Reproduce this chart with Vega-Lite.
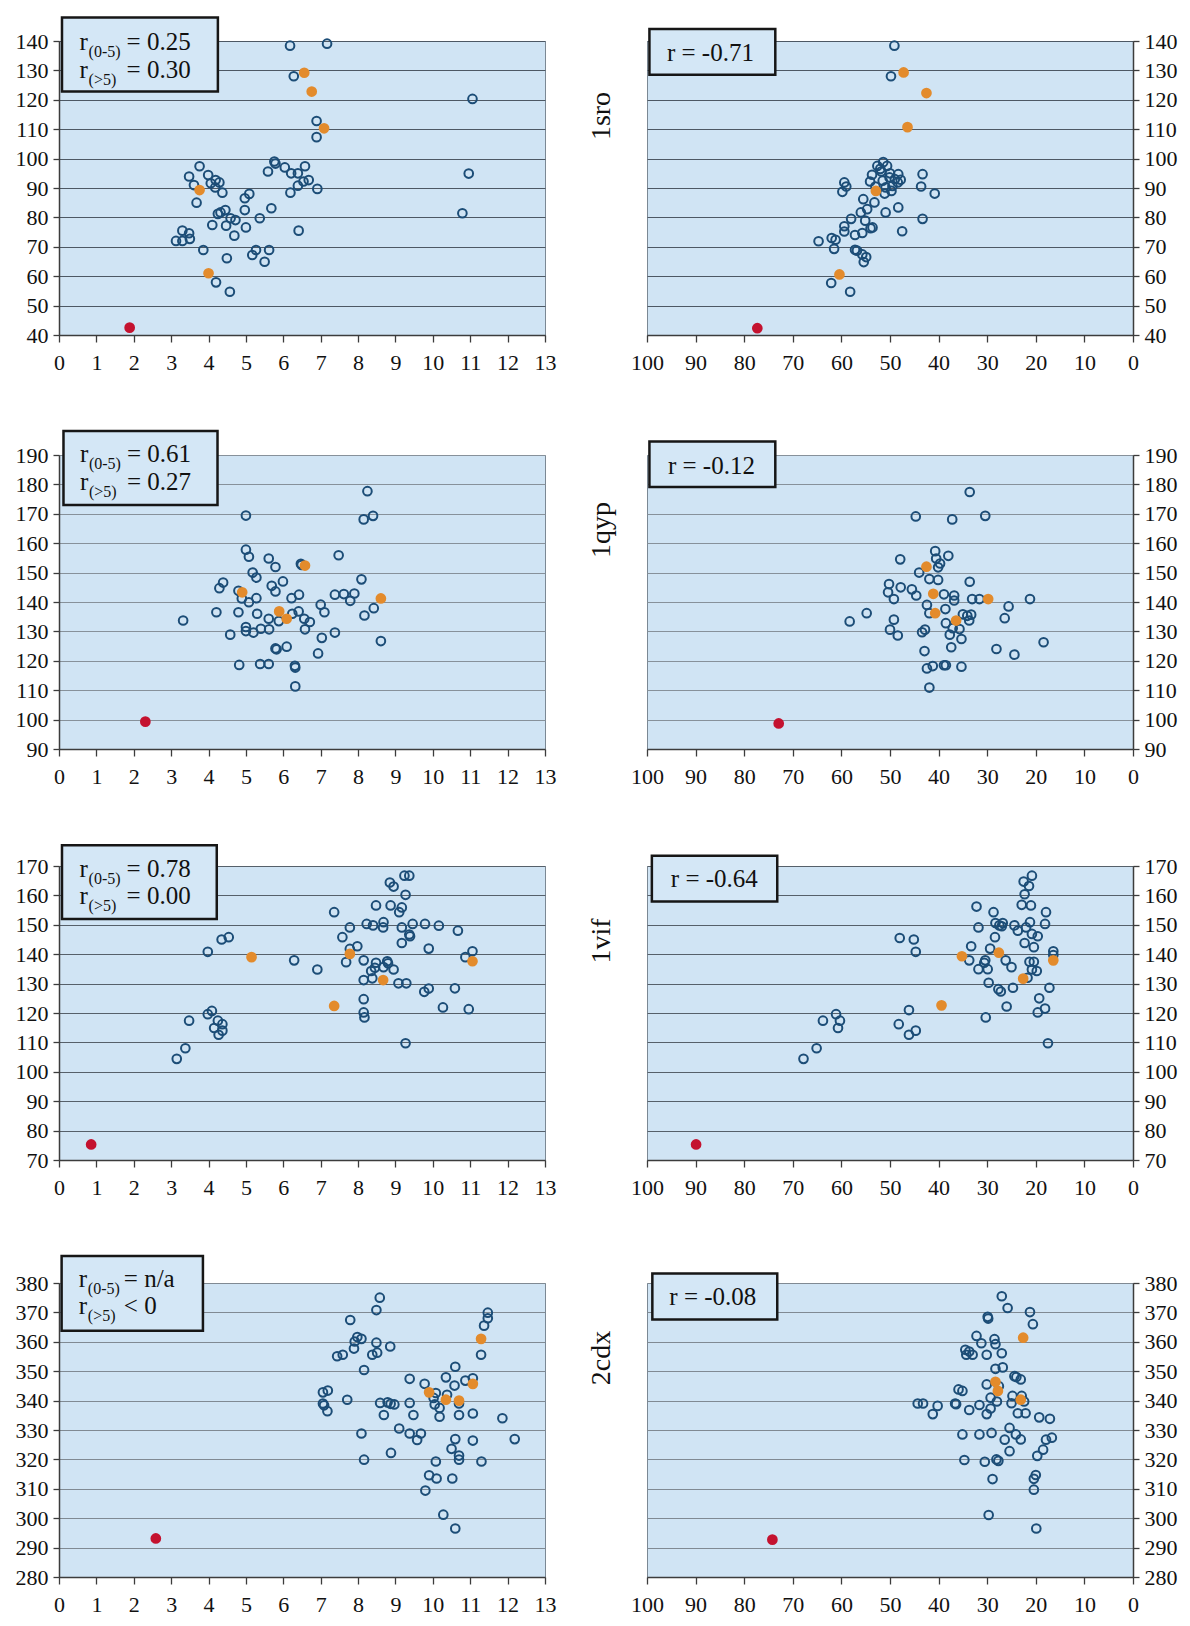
{
"$schema":"https://vega.github.io/schema/vega-lite/v6.json",
"padding":{"left":14,"top":15,"right":5,"bottom":3},
"background":"white",
"spacing":55,
"resolve":{"scale":{"x":"independent","y":"independent"}},
"datasets":{
"p1":[{"x":6.18,"y":138.4,"t":"o"},{"x":7.17,"y":139.1,"t":"o"},{"x":6.28,"y":128.0,"t":"o"},{"x":11.06,"y":120.3,"t":"o"},{"x":6.89,"y":112.8,"t":"o"},{"x":6.89,"y":107.3,"t":"o"},{"x":5.76,"y":99.0,"t":"o"},{"x":5.79,"y":98.3,"t":"o"},{"x":3.76,"y":97.4,"t":"o"},{"x":6.58,"y":97.4,"t":"o"},{"x":6.04,"y":97.0,"t":"o"},{"x":5.59,"y":95.6,"t":"o"},{"x":6.21,"y":95.0,"t":"o"},{"x":6.39,"y":95.0,"t":"o"},{"x":10.96,"y":94.9,"t":"o"},{"x":3.48,"y":93.9,"t":"o"},{"x":3.99,"y":94.4,"t":"o"},{"x":4.19,"y":92.7,"t":"o"},{"x":4.29,"y":91.9,"t":"o"},{"x":4.06,"y":91.6,"t":"o"},{"x":4.18,"y":90.2,"t":"o"},{"x":3.61,"y":91.0,"t":"o"},{"x":6.54,"y":92.2,"t":"o"},{"x":6.68,"y":92.7,"t":"o"},{"x":6.39,"y":90.8,"t":"o"},{"x":6.91,"y":89.7,"t":"o"},{"x":4.37,"y":88.4,"t":"o"},{"x":6.19,"y":88.4,"t":"o"},{"x":5.09,"y":88.0,"t":"o"},{"x":4.97,"y":86.5,"t":"o"},{"x":3.68,"y":85.0,"t":"o"},{"x":5.68,"y":83.1,"t":"o"},{"x":4.97,"y":82.5,"t":"o"},{"x":4.45,"y":82.5,"t":"o"},{"x":4.32,"y":81.7,"t":"o"},{"x":4.25,"y":81.2,"t":"o"},{"x":10.79,"y":81.4,"t":"o"},{"x":4.59,"y":79.7,"t":"o"},{"x":5.37,"y":79.7,"t":"o"},{"x":4.72,"y":79.1,"t":"o"},{"x":4.10,"y":77.4,"t":"o"},{"x":4.47,"y":77.2,"t":"o"},{"x":5.00,"y":76.6,"t":"o"},{"x":6.41,"y":75.5,"t":"o"},{"x":3.30,"y":75.5,"t":"o"},{"x":3.48,"y":74.6,"t":"o"},{"x":4.69,"y":73.8,"t":"o"},{"x":3.13,"y":72.0,"t":"o"},{"x":3.30,"y":72.0,"t":"o"},{"x":3.50,"y":72.7,"t":"o"},{"x":3.86,"y":68.9,"t":"o"},{"x":5.27,"y":68.9,"t":"o"},{"x":5.62,"y":68.9,"t":"o"},{"x":5.17,"y":67.2,"t":"o"},{"x":5.50,"y":64.9,"t":"o"},{"x":4.49,"y":66.1,"t":"o"},{"x":4.20,"y":57.9,"t":"o"},{"x":4.57,"y":54.7,"t":"o"},{"x":6.56,"y":129.2,"t":"a"},{"x":6.76,"y":122.8,"t":"a"},{"x":7.09,"y":110.3,"t":"a"},{"x":3.76,"y":89.3,"t":"a"},{"x":4.00,"y":61.0,"t":"a"},{"x":1.89,"y":42.5,"t":"r"}],
"p2":[{"x":49.1,"y":138.4,"t":"o"},{"x":49.8,"y":128.0,"t":"o"},{"x":51.4,"y":98.8,"t":"o"},{"x":52.6,"y":97.5,"t":"o"},{"x":50.6,"y":97.5,"t":"o"},{"x":53.7,"y":94.5,"t":"o"},{"x":51.8,"y":95.6,"t":"o"},{"x":48.3,"y":94.7,"t":"o"},{"x":43.3,"y":94.7,"t":"o"},{"x":50.1,"y":93.6,"t":"o"},{"x":54.1,"y":92.2,"t":"o"},{"x":48.4,"y":91.9,"t":"o"},{"x":59.4,"y":91.9,"t":"o"},{"x":59.0,"y":90.5,"t":"o"},{"x":49.5,"y":90.7,"t":"o"},{"x":50.9,"y":90.2,"t":"o"},{"x":43.6,"y":90.5,"t":"o"},{"x":59.8,"y":88.7,"t":"o"},{"x":49.7,"y":89.0,"t":"o"},{"x":51.1,"y":88.1,"t":"o"},{"x":40.8,"y":88.1,"t":"o"},{"x":55.5,"y":86.2,"t":"o"},{"x":53.2,"y":85.1,"t":"o"},{"x":54.7,"y":82.8,"t":"o"},{"x":56.0,"y":81.7,"t":"o"},{"x":48.3,"y":83.4,"t":"o"},{"x":50.9,"y":81.7,"t":"o"},{"x":58.0,"y":79.5,"t":"o"},{"x":43.3,"y":79.5,"t":"o"},{"x":55.1,"y":78.9,"t":"o"},{"x":59.4,"y":77.0,"t":"o"},{"x":53.6,"y":76.6,"t":"o"},{"x":54.0,"y":76.3,"t":"o"},{"x":59.4,"y":75.2,"t":"o"},{"x":57.2,"y":74.0,"t":"o"},{"x":55.7,"y":74.7,"t":"o"},{"x":47.5,"y":75.3,"t":"o"},{"x":64.7,"y":71.9,"t":"o"},{"x":62.0,"y":73.0,"t":"o"},{"x":61.2,"y":72.4,"t":"o"},{"x":61.5,"y":69.3,"t":"o"},{"x":57.2,"y":69.0,"t":"o"},{"x":56.8,"y":68.7,"t":"o"},{"x":55.7,"y":67.4,"t":"o"},{"x":54.9,"y":66.5,"t":"o"},{"x":55.4,"y":64.8,"t":"o"},{"x":62.1,"y":57.7,"t":"o"},{"x":58.2,"y":54.7,"t":"o"},{"x":52.0,"y":96.5,"t":"o"},{"x":50.0,"y":95.0,"t":"o"},{"x":49.0,"y":93.0,"t":"o"},{"x":51.5,"y":92.5,"t":"o"},{"x":47.8,"y":92.8,"t":"o"},{"x":53.0,"y":90.5,"t":"o"},{"x":47.2,"y":129.3,"t":"a"},{"x":42.5,"y":122.3,"t":"a"},{"x":46.4,"y":110.7,"t":"a"},{"x":52.9,"y":89.0,"t":"a"},{"x":60.4,"y":60.6,"t":"a"},{"x":77.3,"y":42.3,"t":"r"}],
"p3":[{"x":8.25,"y":177.7,"t":"o"},{"x":5.00,"y":169.4,"t":"o"},{"x":8.15,"y":168.1,"t":"o"},{"x":8.40,"y":169.3,"t":"o"},{"x":5.00,"y":157.8,"t":"o"},{"x":5.08,"y":155.4,"t":"o"},{"x":7.48,"y":155.9,"t":"o"},{"x":5.61,"y":154.8,"t":"o"},{"x":5.79,"y":151.9,"t":"o"},{"x":6.47,"y":153.0,"t":"o"},{"x":6.49,"y":152.6,"t":"o"},{"x":5.18,"y":150.0,"t":"o"},{"x":5.28,"y":148.3,"t":"o"},{"x":5.99,"y":147.0,"t":"o"},{"x":8.09,"y":147.7,"t":"o"},{"x":4.39,"y":146.6,"t":"o"},{"x":4.29,"y":144.7,"t":"o"},{"x":5.69,"y":145.5,"t":"o"},{"x":5.79,"y":143.6,"t":"o"},{"x":4.80,"y":143.8,"t":"o"},{"x":5.28,"y":141.3,"t":"o"},{"x":4.89,"y":141.2,"t":"o"},{"x":6.22,"y":141.3,"t":"o"},{"x":6.42,"y":142.5,"t":"o"},{"x":7.38,"y":142.5,"t":"o"},{"x":7.62,"y":142.7,"t":"o"},{"x":7.90,"y":142.9,"t":"o"},{"x":7.79,"y":140.4,"t":"o"},{"x":5.08,"y":139.9,"t":"o"},{"x":7.00,"y":139.1,"t":"o"},{"x":7.10,"y":136.5,"t":"o"},{"x":4.21,"y":136.5,"t":"o"},{"x":4.80,"y":136.5,"t":"o"},{"x":5.30,"y":136.0,"t":"o"},{"x":6.41,"y":136.8,"t":"o"},{"x":6.24,"y":136.0,"t":"o"},{"x":8.42,"y":137.9,"t":"o"},{"x":8.17,"y":135.4,"t":"o"},{"x":3.32,"y":133.7,"t":"o"},{"x":5.61,"y":134.3,"t":"o"},{"x":5.88,"y":133.5,"t":"o"},{"x":6.56,"y":134.3,"t":"o"},{"x":6.71,"y":133.2,"t":"o"},{"x":5.00,"y":131.5,"t":"o"},{"x":5.00,"y":130.1,"t":"o"},{"x":5.20,"y":129.6,"t":"o"},{"x":5.40,"y":130.9,"t":"o"},{"x":5.62,"y":130.7,"t":"o"},{"x":6.58,"y":130.7,"t":"o"},{"x":4.58,"y":128.9,"t":"o"},{"x":7.38,"y":129.6,"t":"o"},{"x":7.03,"y":127.8,"t":"o"},{"x":8.61,"y":126.7,"t":"o"},{"x":6.09,"y":124.8,"t":"o"},{"x":5.79,"y":124.2,"t":"o"},{"x":5.82,"y":123.9,"t":"o"},{"x":6.93,"y":122.5,"t":"o"},{"x":4.82,"y":118.6,"t":"o"},{"x":5.38,"y":118.9,"t":"o"},{"x":5.61,"y":118.9,"t":"o"},{"x":6.31,"y":118.3,"t":"o"},{"x":6.32,"y":117.7,"t":"o"},{"x":6.32,"y":111.3,"t":"o"},{"x":4.90,"y":143.3,"t":"a"},{"x":5.89,"y":136.8,"t":"a"},{"x":6.09,"y":134.3,"t":"a"},{"x":6.58,"y":152.4,"t":"a"},{"x":8.61,"y":141.2,"t":"a"},{"x":2.31,"y":99.3,"t":"r"}],
"p4":[{"x":33.6,"y":177.4,"t":"o"},{"x":44.7,"y":169.1,"t":"o"},{"x":37.2,"y":168.1,"t":"o"},{"x":30.4,"y":169.3,"t":"o"},{"x":40.7,"y":157.3,"t":"o"},{"x":38.0,"y":155.7,"t":"o"},{"x":47.9,"y":154.5,"t":"o"},{"x":40.5,"y":154.8,"t":"o"},{"x":39.7,"y":153.1,"t":"o"},{"x":40.1,"y":151.8,"t":"o"},{"x":44.0,"y":150.0,"t":"o"},{"x":41.9,"y":147.8,"t":"o"},{"x":40.1,"y":147.5,"t":"o"},{"x":33.6,"y":146.9,"t":"o"},{"x":50.2,"y":146.1,"t":"o"},{"x":50.4,"y":143.3,"t":"o"},{"x":47.8,"y":145.0,"t":"o"},{"x":45.5,"y":144.3,"t":"o"},{"x":44.6,"y":142.2,"t":"o"},{"x":38.9,"y":142.6,"t":"o"},{"x":36.8,"y":142.2,"t":"o"},{"x":36.8,"y":140.5,"t":"o"},{"x":49.2,"y":141.0,"t":"o"},{"x":33.1,"y":141.0,"t":"o"},{"x":31.6,"y":141.0,"t":"o"},{"x":21.2,"y":141.0,"t":"o"},{"x":42.4,"y":139.0,"t":"o"},{"x":25.6,"y":138.5,"t":"o"},{"x":54.8,"y":136.2,"t":"o"},{"x":58.3,"y":133.4,"t":"o"},{"x":49.2,"y":134.0,"t":"o"},{"x":41.9,"y":136.2,"t":"o"},{"x":38.6,"y":137.6,"t":"o"},{"x":35.0,"y":135.8,"t":"o"},{"x":34.1,"y":135.3,"t":"o"},{"x":33.3,"y":135.7,"t":"o"},{"x":33.7,"y":133.7,"t":"o"},{"x":26.4,"y":134.5,"t":"o"},{"x":38.5,"y":132.8,"t":"o"},{"x":37.1,"y":131.1,"t":"o"},{"x":35.7,"y":130.8,"t":"o"},{"x":50.0,"y":130.6,"t":"o"},{"x":43.4,"y":129.7,"t":"o"},{"x":42.8,"y":130.6,"t":"o"},{"x":37.7,"y":128.9,"t":"o"},{"x":48.4,"y":128.6,"t":"o"},{"x":35.3,"y":127.4,"t":"o"},{"x":18.4,"y":126.3,"t":"o"},{"x":37.4,"y":124.6,"t":"o"},{"x":42.9,"y":123.3,"t":"o"},{"x":28.1,"y":124.0,"t":"o"},{"x":24.4,"y":122.1,"t":"o"},{"x":41.2,"y":118.2,"t":"o"},{"x":42.4,"y":117.4,"t":"o"},{"x":38.9,"y":118.5,"t":"o"},{"x":38.5,"y":118.5,"t":"o"},{"x":35.3,"y":118.0,"t":"o"},{"x":41.9,"y":110.9,"t":"o"},{"x":42.5,"y":152.0,"t":"a"},{"x":41.1,"y":142.8,"t":"a"},{"x":40.7,"y":136.2,"t":"a"},{"x":36.4,"y":133.7,"t":"a"},{"x":29.8,"y":141.0,"t":"a"},{"x":72.9,"y":98.7,"t":"r"}],
"p5":[{"x":9.24,"y":166.7,"t":"o"},{"x":9.37,"y":166.7,"t":"o"},{"x":8.85,"y":164.4,"t":"o"},{"x":8.95,"y":163.0,"t":"o"},{"x":9.27,"y":160.2,"t":"o"},{"x":8.48,"y":156.6,"t":"o"},{"x":8.87,"y":156.6,"t":"o"},{"x":9.17,"y":155.9,"t":"o"},{"x":7.36,"y":154.3,"t":"o"},{"x":9.10,"y":154.3,"t":"o"},{"x":8.23,"y":150.3,"t":"o"},{"x":8.40,"y":149.8,"t":"o"},{"x":8.68,"y":150.9,"t":"o"},{"x":8.67,"y":149.1,"t":"o"},{"x":9.17,"y":149.1,"t":"o"},{"x":9.46,"y":150.3,"t":"o"},{"x":9.79,"y":150.3,"t":"o"},{"x":10.16,"y":149.7,"t":"o"},{"x":7.78,"y":149.1,"t":"o"},{"x":10.67,"y":148.0,"t":"o"},{"x":9.37,"y":146.7,"t":"o"},{"x":9.39,"y":146.1,"t":"o"},{"x":7.58,"y":145.8,"t":"o"},{"x":9.17,"y":143.8,"t":"o"},{"x":7.98,"y":142.7,"t":"o"},{"x":9.89,"y":141.9,"t":"o"},{"x":7.78,"y":141.8,"t":"o"},{"x":4.54,"y":145.8,"t":"o"},{"x":4.35,"y":145.0,"t":"o"},{"x":3.98,"y":140.8,"t":"o"},{"x":11.06,"y":141.0,"t":"o"},{"x":10.87,"y":139.0,"t":"o"},{"x":6.29,"y":137.9,"t":"o"},{"x":8.15,"y":137.9,"t":"o"},{"x":7.68,"y":137.3,"t":"o"},{"x":8.48,"y":137.1,"t":"o"},{"x":8.78,"y":137.6,"t":"o"},{"x":8.80,"y":136.9,"t":"o"},{"x":8.68,"y":135.6,"t":"o"},{"x":8.45,"y":135.4,"t":"o"},{"x":8.35,"y":134.3,"t":"o"},{"x":8.95,"y":134.8,"t":"o"},{"x":6.91,"y":134.8,"t":"o"},{"x":8.38,"y":131.8,"t":"o"},{"x":8.15,"y":131.2,"t":"o"},{"x":9.08,"y":130.1,"t":"o"},{"x":9.29,"y":130.1,"t":"o"},{"x":9.77,"y":127.2,"t":"o"},{"x":9.89,"y":128.3,"t":"o"},{"x":10.59,"y":128.4,"t":"o"},{"x":8.15,"y":124.7,"t":"o"},{"x":10.27,"y":121.9,"t":"o"},{"x":10.96,"y":121.3,"t":"o"},{"x":8.15,"y":120.2,"t":"o"},{"x":8.17,"y":118.5,"t":"o"},{"x":4.09,"y":120.7,"t":"o"},{"x":3.98,"y":119.6,"t":"o"},{"x":3.48,"y":117.4,"t":"o"},{"x":4.25,"y":117.4,"t":"o"},{"x":4.37,"y":116.2,"t":"o"},{"x":4.15,"y":114.9,"t":"o"},{"x":4.37,"y":114.0,"t":"o"},{"x":4.27,"y":112.6,"t":"o"},{"x":9.27,"y":109.7,"t":"o"},{"x":3.38,"y":108.0,"t":"o"},{"x":3.15,"y":104.4,"t":"o"},{"x":5.15,"y":139.0,"t":"a"},{"x":7.78,"y":140.1,"t":"a"},{"x":7.36,"y":122.4,"t":"a"},{"x":8.67,"y":131.2,"t":"a"},{"x":11.06,"y":137.6,"t":"a"},{"x":0.86,"y":75.3,"t":"r"}],
"p6":[{"x":20.8,"y":166.7,"t":"o"},{"x":22.5,"y":164.7,"t":"o"},{"x":21.4,"y":163.2,"t":"o"},{"x":22.3,"y":160.4,"t":"o"},{"x":22.9,"y":156.8,"t":"o"},{"x":21.0,"y":156.6,"t":"o"},{"x":32.2,"y":156.2,"t":"o"},{"x":28.7,"y":154.3,"t":"o"},{"x":17.9,"y":154.3,"t":"o"},{"x":28.3,"y":150.6,"t":"o"},{"x":26.8,"y":150.6,"t":"o"},{"x":27.0,"y":149.5,"t":"o"},{"x":27.5,"y":149.8,"t":"o"},{"x":24.4,"y":149.8,"t":"o"},{"x":21.2,"y":150.9,"t":"o"},{"x":18.1,"y":150.3,"t":"o"},{"x":31.8,"y":149.1,"t":"o"},{"x":22.0,"y":149.1,"t":"o"},{"x":23.7,"y":148.0,"t":"o"},{"x":20.8,"y":146.9,"t":"o"},{"x":19.6,"y":146.1,"t":"o"},{"x":28.4,"y":145.8,"t":"o"},{"x":48.0,"y":145.5,"t":"o"},{"x":45.1,"y":145.0,"t":"o"},{"x":44.7,"y":140.8,"t":"o"},{"x":33.3,"y":142.7,"t":"o"},{"x":29.4,"y":141.9,"t":"o"},{"x":22.3,"y":143.8,"t":"o"},{"x":20.4,"y":142.4,"t":"o"},{"x":16.4,"y":141.0,"t":"o"},{"x":16.4,"y":139.7,"t":"o"},{"x":33.7,"y":137.9,"t":"o"},{"x":30.4,"y":137.9,"t":"o"},{"x":30.6,"y":137.1,"t":"o"},{"x":26.2,"y":137.9,"t":"o"},{"x":21.3,"y":137.4,"t":"o"},{"x":20.4,"y":137.4,"t":"o"},{"x":31.8,"y":134.9,"t":"o"},{"x":29.9,"y":134.9,"t":"o"},{"x":25.0,"y":135.6,"t":"o"},{"x":20.8,"y":134.8,"t":"o"},{"x":19.8,"y":134.3,"t":"o"},{"x":29.7,"y":130.3,"t":"o"},{"x":27.7,"y":128.1,"t":"o"},{"x":27.2,"y":127.3,"t":"o"},{"x":24.7,"y":128.6,"t":"o"},{"x":21.7,"y":132.0,"t":"o"},{"x":17.2,"y":128.6,"t":"o"},{"x":19.3,"y":125.0,"t":"o"},{"x":26.0,"y":122.2,"t":"o"},{"x":18.1,"y":121.5,"t":"o"},{"x":19.6,"y":120.2,"t":"o"},{"x":30.3,"y":118.5,"t":"o"},{"x":46.1,"y":121.0,"t":"o"},{"x":61.1,"y":119.6,"t":"o"},{"x":63.8,"y":117.4,"t":"o"},{"x":60.3,"y":117.4,"t":"o"},{"x":60.7,"y":114.9,"t":"o"},{"x":48.2,"y":116.2,"t":"o"},{"x":46.1,"y":112.6,"t":"o"},{"x":44.7,"y":114.0,"t":"o"},{"x":17.5,"y":109.7,"t":"o"},{"x":65.1,"y":108.0,"t":"o"},{"x":67.8,"y":104.4,"t":"o"},{"x":35.2,"y":139.3,"t":"a"},{"x":27.6,"y":140.5,"t":"a"},{"x":39.4,"y":122.6,"t":"a"},{"x":22.6,"y":131.7,"t":"a"},{"x":16.4,"y":137.9,"t":"a"},{"x":89.9,"y":75.3,"t":"r"}],
"p7":[{"x":8.58,"y":375.0,"t":"o"},{"x":8.49,"y":370.8,"t":"o"},{"x":11.47,"y":369.9,"t":"o"},{"x":11.47,"y":368.0,"t":"o"},{"x":11.37,"y":365.5,"t":"o"},{"x":7.79,"y":367.4,"t":"o"},{"x":7.98,"y":361.6,"t":"o"},{"x":8.09,"y":361.0,"t":"o"},{"x":7.91,"y":360.1,"t":"o"},{"x":7.89,"y":357.7,"t":"o"},{"x":8.49,"y":359.7,"t":"o"},{"x":8.86,"y":358.4,"t":"o"},{"x":8.51,"y":356.3,"t":"o"},{"x":8.38,"y":355.6,"t":"o"},{"x":7.59,"y":355.6,"t":"o"},{"x":7.44,"y":355.1,"t":"o"},{"x":11.29,"y":355.6,"t":"o"},{"x":8.16,"y":350.4,"t":"o"},{"x":10.60,"y":351.5,"t":"o"},{"x":9.38,"y":347.4,"t":"o"},{"x":10.35,"y":347.9,"t":"o"},{"x":10.87,"y":346.8,"t":"o"},{"x":11.07,"y":347.6,"t":"o"},{"x":9.78,"y":345.7,"t":"o"},{"x":10.58,"y":345.1,"t":"o"},{"x":7.06,"y":342.8,"t":"o"},{"x":7.19,"y":343.4,"t":"o"},{"x":10.08,"y":342.6,"t":"o"},{"x":10.38,"y":342.0,"t":"o"},{"x":10.02,"y":340.9,"t":"o"},{"x":7.71,"y":340.3,"t":"o"},{"x":7.06,"y":339.0,"t":"o"},{"x":7.09,"y":338.4,"t":"o"},{"x":8.59,"y":339.2,"t":"o"},{"x":8.79,"y":339.4,"t":"o"},{"x":8.87,"y":338.9,"t":"o"},{"x":8.97,"y":338.7,"t":"o"},{"x":9.38,"y":339.2,"t":"o"},{"x":10.05,"y":338.7,"t":"o"},{"x":10.18,"y":337.5,"t":"o"},{"x":10.70,"y":339.0,"t":"o"},{"x":7.18,"y":336.4,"t":"o"},{"x":8.69,"y":335.1,"t":"o"},{"x":9.48,"y":335.1,"t":"o"},{"x":10.18,"y":334.5,"t":"o"},{"x":10.70,"y":335.1,"t":"o"},{"x":11.07,"y":335.6,"t":"o"},{"x":11.86,"y":334.0,"t":"o"},{"x":9.10,"y":330.5,"t":"o"},{"x":9.38,"y":328.8,"t":"o"},{"x":9.68,"y":328.8,"t":"o"},{"x":9.58,"y":326.6,"t":"o"},{"x":8.09,"y":328.8,"t":"o"},{"x":10.60,"y":326.9,"t":"o"},{"x":11.07,"y":326.4,"t":"o"},{"x":12.19,"y":326.9,"t":"o"},{"x":10.50,"y":323.6,"t":"o"},{"x":10.70,"y":321.3,"t":"o"},{"x":10.70,"y":319.9,"t":"o"},{"x":8.88,"y":322.2,"t":"o"},{"x":8.16,"y":319.9,"t":"o"},{"x":10.08,"y":319.3,"t":"o"},{"x":11.30,"y":319.3,"t":"o"},{"x":9.90,"y":314.6,"t":"o"},{"x":10.10,"y":313.5,"t":"o"},{"x":10.52,"y":313.5,"t":"o"},{"x":9.80,"y":309.4,"t":"o"},{"x":10.28,"y":301.2,"t":"o"},{"x":10.60,"y":296.5,"t":"o"},{"x":11.29,"y":361.0,"t":"a"},{"x":11.07,"y":345.7,"t":"a"},{"x":9.90,"y":342.8,"t":"a"},{"x":10.35,"y":340.3,"t":"a"},{"x":10.70,"y":340.0,"t":"a"},{"x":2.59,"y":293.1,"t":"r"}],
"p8":[{"x":27.0,"y":375.5,"t":"o"},{"x":25.8,"y":371.5,"t":"o"},{"x":21.2,"y":370.1,"t":"o"},{"x":20.6,"y":366.0,"t":"o"},{"x":29.9,"y":368.5,"t":"o"},{"x":29.8,"y":367.9,"t":"o"},{"x":32.2,"y":362.0,"t":"o"},{"x":31.2,"y":359.5,"t":"o"},{"x":28.5,"y":360.9,"t":"o"},{"x":28.3,"y":359.2,"t":"o"},{"x":27.0,"y":356.1,"t":"o"},{"x":34.5,"y":357.3,"t":"o"},{"x":33.7,"y":356.7,"t":"o"},{"x":34.3,"y":355.6,"t":"o"},{"x":33.0,"y":355.6,"t":"o"},{"x":30.1,"y":355.6,"t":"o"},{"x":28.3,"y":350.8,"t":"o"},{"x":26.8,"y":351.3,"t":"o"},{"x":24.4,"y":348.3,"t":"o"},{"x":24.0,"y":348.0,"t":"o"},{"x":23.1,"y":347.2,"t":"o"},{"x":30.1,"y":345.5,"t":"o"},{"x":27.6,"y":344.9,"t":"o"},{"x":35.9,"y":343.8,"t":"o"},{"x":35.1,"y":343.3,"t":"o"},{"x":29.3,"y":341.0,"t":"o"},{"x":24.8,"y":341.6,"t":"o"},{"x":22.9,"y":341.6,"t":"o"},{"x":28.0,"y":339.7,"t":"o"},{"x":25.0,"y":339.1,"t":"o"},{"x":22.4,"y":339.7,"t":"o"},{"x":44.3,"y":339.0,"t":"o"},{"x":43.2,"y":339.0,"t":"o"},{"x":40.2,"y":338.2,"t":"o"},{"x":36.6,"y":339.0,"t":"o"},{"x":36.4,"y":338.8,"t":"o"},{"x":31.6,"y":338.5,"t":"o"},{"x":29.3,"y":337.3,"t":"o"},{"x":33.7,"y":336.8,"t":"o"},{"x":30.1,"y":335.4,"t":"o"},{"x":41.2,"y":335.4,"t":"o"},{"x":23.7,"y":335.7,"t":"o"},{"x":22.1,"y":335.7,"t":"o"},{"x":19.3,"y":334.3,"t":"o"},{"x":17.1,"y":333.8,"t":"o"},{"x":25.4,"y":330.7,"t":"o"},{"x":35.1,"y":328.5,"t":"o"},{"x":31.6,"y":328.5,"t":"o"},{"x":29.1,"y":329.0,"t":"o"},{"x":24.1,"y":328.5,"t":"o"},{"x":26.4,"y":326.7,"t":"o"},{"x":23.1,"y":326.8,"t":"o"},{"x":17.9,"y":326.7,"t":"o"},{"x":16.7,"y":327.4,"t":"o"},{"x":18.5,"y":323.3,"t":"o"},{"x":25.4,"y":322.8,"t":"o"},{"x":34.7,"y":319.8,"t":"o"},{"x":30.5,"y":319.2,"t":"o"},{"x":28.1,"y":320.0,"t":"o"},{"x":27.7,"y":319.5,"t":"o"},{"x":19.7,"y":321.2,"t":"o"},{"x":20.0,"y":314.7,"t":"o"},{"x":20.4,"y":313.4,"t":"o"},{"x":20.4,"y":309.7,"t":"o"},{"x":28.9,"y":313.3,"t":"o"},{"x":29.7,"y":301.1,"t":"o"},{"x":19.9,"y":296.5,"t":"o"},{"x":22.6,"y":361.4,"t":"a"},{"x":28.3,"y":346.4,"t":"a"},{"x":27.8,"y":343.3,"t":"a"},{"x":23.1,"y":340.3,"t":"a"},{"x":74.2,"y":292.7,"t":"r"}]
},
"vconcat":[
{"hconcat":[
{"width":486,"height":294,"data":{"name":"p1"},"layer":[
{"transform":[{"filter":"datum.t == 'o'"}],"mark":{"type":"point","shape":"circle","filled":false,"size":75,"strokeWidth":2,"color":"#1c4d77","opacity":1},
"encoding":{"x":{"field":"x","type":"quantitative","title":null,"scale":{"domain":[0,13],"nice":false,"zero":false},"axis":{"values":[0,1,2,3,4,5,6,7,8,9,10,11,12,13],"tickCount":30,"format":"d","labelFont":"Liberation Serif","labelOverlap":false,"labelFlush":false}},
"y":{"field":"y","type":"quantitative","title":null,"scale":{"domain":[40,140],"nice":false,"zero":false},"axis":{"values":[40,50,60,70,80,90,100,110,120,130,140],"tickCount":30,"format":"d","labelFont":"Liberation Serif","labelOverlap":false,"labelFlush":false,"grid":true,"gridColor":"#4d5864","gridWidth":1.2}}}},
{"transform":[{"filter":"datum.t != 'o'"}],"mark":{"type":"circle","size":115,"opacity":1},"encoding":{"x":{"field":"x","type":"quantitative","title":null},"y":{"field":"y","type":"quantitative","title":null},"color":{"field":"t","type":"nominal","scale":{"domain":["a","r"],"range":["#e38b2c","#c4122f"]},"legend":null}}},
{"data":{"values":[{}]},"mark":{"type":"rect","fill":"#d4e7f6","stroke":"#161616","strokeWidth":2.5},"encoding":{"x":{"datum":0.08,"type":"quantitative","title":null},"x2":{"datum":4.25},"y":{"datum":148,"type":"quantitative","title":null},"y2":{"datum":122.8}}},
{"data":{"values":[{}]},"mark":{"type":"text","text":"r","align":"left","baseline":"alphabetic","fontSize":25},"encoding":{"x":{"datum":0.55,"type":"quantitative","title":null},"y":{"datum":136.9,"type":"quantitative","title":null}}},
{"data":{"values":[{}]},"mark":{"type":"text","text":"(0-5)","align":"left","baseline":"alphabetic","fontSize":16,"dx":9,"dy":7},"encoding":{"x":{"datum":0.55,"type":"quantitative","title":null},"y":{"datum":136.9,"type":"quantitative","title":null}}},
{"data":{"values":[{}]},"mark":{"type":"text","text":"= 0.25","align":"left","baseline":"alphabetic","fontSize":25,"dx":47},"encoding":{"x":{"datum":0.55,"type":"quantitative","title":null},"y":{"datum":136.9,"type":"quantitative","title":null}}},
{"data":{"values":[{}]},"mark":{"type":"text","text":"r","align":"left","baseline":"alphabetic","fontSize":25},"encoding":{"x":{"datum":0.55,"type":"quantitative","title":null},"y":{"datum":127.5,"type":"quantitative","title":null}}},
{"data":{"values":[{}]},"mark":{"type":"text","text":"(>5)","align":"left","baseline":"alphabetic","fontSize":16,"dx":9,"dy":7},"encoding":{"x":{"datum":0.55,"type":"quantitative","title":null},"y":{"datum":127.5,"type":"quantitative","title":null}}},
{"data":{"values":[{}]},"mark":{"type":"text","text":"= 0.30","align":"left","baseline":"alphabetic","fontSize":25,"dx":47},"encoding":{"x":{"datum":0.55,"type":"quantitative","title":null},"y":{"datum":127.5,"type":"quantitative","title":null}}}
]},
{"width":486,"height":294,"data":{"name":"p2"},"title":{"text":"1sro","orient":"left","anchor":"middle","fontSize":28,"offset":15,"dx":72},"layer":[
{"transform":[{"filter":"datum.t == 'o'"}],"mark":{"type":"point","shape":"circle","filled":false,"size":75,"strokeWidth":2,"color":"#1c4d77","opacity":1},
"encoding":{"x":{"field":"x","type":"quantitative","title":null,"scale":{"domain":[0,100],"reverse":true,"nice":false,"zero":false},"axis":{"values":[0,10,20,30,40,50,60,70,80,90,100],"tickCount":30,"format":"d","labelFont":"Liberation Serif","labelOverlap":false,"labelFlush":false}},
"y":{"field":"y","type":"quantitative","title":null,"scale":{"domain":[40,140],"nice":false,"zero":false},"axis":{"orient":"right","values":[40,50,60,70,80,90,100,110,120,130,140],"tickCount":30,"format":"d","labelFont":"Liberation Serif","labelOverlap":false,"labelFlush":false,"grid":true,"gridColor":"#4d5864","gridWidth":1.2}}}},
{"transform":[{"filter":"datum.t != 'o'"}],"mark":{"type":"circle","size":115,"opacity":1},"encoding":{"x":{"field":"x","type":"quantitative","title":null},"y":{"field":"y","type":"quantitative","title":null},"color":{"field":"t","type":"nominal","scale":{"domain":["a","r"],"range":["#e38b2c","#c4122f"]},"legend":null}}},
{"data":{"values":[{}]},"mark":{"type":"rect","fill":"#d4e7f6","stroke":"#161616","strokeWidth":2.5},"encoding":{"x":{"datum":99.5,"type":"quantitative","title":null},"x2":{"datum":73.6},"y":{"datum":144.1,"type":"quantitative","title":null},"y2":{"datum":128.5}}},
{"data":{"values":[{}]},"mark":{"type":"text","text":"r = -0.71","align":"left","baseline":"alphabetic","fontSize":25},"encoding":{"x":{"datum":95.9,"type":"quantitative","title":null},"y":{"datum":133.2,"type":"quantitative","title":null}}}
]}
],"spacing":102,"bounds":"flush","resolve":{"scale":{"x":"independent","y":"independent"}}},
{"hconcat":[
{"width":486,"height":294,"data":{"name":"p3"},"layer":[
{"transform":[{"filter":"datum.t == 'o'"}],"mark":{"type":"point","shape":"circle","filled":false,"size":75,"strokeWidth":2,"color":"#1c4d77","opacity":1},
"encoding":{"x":{"field":"x","type":"quantitative","title":null,"scale":{"domain":[0,13],"nice":false,"zero":false},"axis":{"values":[0,1,2,3,4,5,6,7,8,9,10,11,12,13],"tickCount":30,"format":"d","labelFont":"Liberation Serif","labelOverlap":false,"labelFlush":false}},
"y":{"field":"y","type":"quantitative","title":null,"scale":{"domain":[90,190],"nice":false,"zero":false},"axis":{"values":[90,100,110,120,130,140,150,160,170,180,190],"tickCount":30,"format":"d","labelFont":"Liberation Serif","labelOverlap":false,"labelFlush":false,"grid":true,"gridColor":"#87919a","gridWidth":1.2}}}},
{"transform":[{"filter":"datum.t != 'o'"}],"mark":{"type":"circle","size":115,"opacity":1},"encoding":{"x":{"field":"x","type":"quantitative","title":null},"y":{"field":"y","type":"quantitative","title":null},"color":{"field":"t","type":"nominal","scale":{"domain":["a","r"],"range":["#e38b2c","#c4122f"]},"legend":null}}},
{"data":{"values":[{}]},"mark":{"type":"rect","fill":"#d4e7f6","stroke":"#161616","strokeWidth":2.5},"encoding":{"x":{"datum":0.12,"type":"quantitative","title":null},"x2":{"datum":4.24},"y":{"datum":198.2,"type":"quantitative","title":null},"y2":{"datum":173.0}}},
{"data":{"values":[{}]},"mark":{"type":"text","text":"r","align":"left","baseline":"alphabetic","fontSize":25},"encoding":{"x":{"datum":0.56,"type":"quantitative","title":null},"y":{"datum":187.5,"type":"quantitative","title":null}}},
{"data":{"values":[{}]},"mark":{"type":"text","text":"(0-5)","align":"left","baseline":"alphabetic","fontSize":16,"dx":9,"dy":7},"encoding":{"x":{"datum":0.56,"type":"quantitative","title":null},"y":{"datum":187.5,"type":"quantitative","title":null}}},
{"data":{"values":[{}]},"mark":{"type":"text","text":"= 0.61","align":"left","baseline":"alphabetic","fontSize":25,"dx":47},"encoding":{"x":{"datum":0.56,"type":"quantitative","title":null},"y":{"datum":187.5,"type":"quantitative","title":null}}},
{"data":{"values":[{}]},"mark":{"type":"text","text":"r","align":"left","baseline":"alphabetic","fontSize":25},"encoding":{"x":{"datum":0.56,"type":"quantitative","title":null},"y":{"datum":178.0,"type":"quantitative","title":null}}},
{"data":{"values":[{}]},"mark":{"type":"text","text":"(>5)","align":"left","baseline":"alphabetic","fontSize":16,"dx":9,"dy":7},"encoding":{"x":{"datum":0.56,"type":"quantitative","title":null},"y":{"datum":178.0,"type":"quantitative","title":null}}},
{"data":{"values":[{}]},"mark":{"type":"text","text":"= 0.27","align":"left","baseline":"alphabetic","fontSize":25,"dx":47},"encoding":{"x":{"datum":0.56,"type":"quantitative","title":null},"y":{"datum":178.0,"type":"quantitative","title":null}}}
]},
{"width":486,"height":294,"data":{"name":"p4"},"title":{"text":"1qyp","orient":"left","anchor":"middle","fontSize":28,"offset":15,"dx":72},"layer":[
{"transform":[{"filter":"datum.t == 'o'"}],"mark":{"type":"point","shape":"circle","filled":false,"size":75,"strokeWidth":2,"color":"#1c4d77","opacity":1},
"encoding":{"x":{"field":"x","type":"quantitative","title":null,"scale":{"domain":[0,100],"reverse":true,"nice":false,"zero":false},"axis":{"values":[0,10,20,30,40,50,60,70,80,90,100],"tickCount":30,"format":"d","labelFont":"Liberation Serif","labelOverlap":false,"labelFlush":false}},
"y":{"field":"y","type":"quantitative","title":null,"scale":{"domain":[90,190],"nice":false,"zero":false},"axis":{"orient":"right","values":[90,100,110,120,130,140,150,160,170,180,190],"tickCount":30,"format":"d","labelFont":"Liberation Serif","labelOverlap":false,"labelFlush":false,"grid":true,"gridColor":"#87919a","gridWidth":1.2}}}},
{"transform":[{"filter":"datum.t != 'o'"}],"mark":{"type":"circle","size":115,"opacity":1},"encoding":{"x":{"field":"x","type":"quantitative","title":null},"y":{"field":"y","type":"quantitative","title":null},"color":{"field":"t","type":"nominal","scale":{"domain":["a","r"],"range":["#e38b2c","#c4122f"]},"legend":null}}},
{"data":{"values":[{}]},"mark":{"type":"rect","fill":"#d4e7f6","stroke":"#161616","strokeWidth":2.5},"encoding":{"x":{"datum":99.5,"type":"quantitative","title":null},"x2":{"datum":73.6},"y":{"datum":194.6,"type":"quantitative","title":null},"y2":{"datum":179.1}}},
{"data":{"values":[{}]},"mark":{"type":"text","text":"r = -0.12","align":"left","baseline":"alphabetic","fontSize":25},"encoding":{"x":{"datum":95.7,"type":"quantitative","title":null},"y":{"datum":183.6,"type":"quantitative","title":null}}}
]}
],"spacing":102,"bounds":"flush","resolve":{"scale":{"x":"independent","y":"independent"}}},
{"hconcat":[
{"width":486,"height":294,"data":{"name":"p5"},"layer":[
{"transform":[{"filter":"datum.t == 'o'"}],"mark":{"type":"point","shape":"circle","filled":false,"size":75,"strokeWidth":2,"color":"#1c4d77","opacity":1},
"encoding":{"x":{"field":"x","type":"quantitative","title":null,"scale":{"domain":[0,13],"nice":false,"zero":false},"axis":{"values":[0,1,2,3,4,5,6,7,8,9,10,11,12,13],"tickCount":30,"format":"d","labelFont":"Liberation Serif","labelOverlap":false,"labelFlush":false}},
"y":{"field":"y","type":"quantitative","title":null,"scale":{"domain":[70,170],"nice":false,"zero":false},"axis":{"values":[70,80,90,100,110,120,130,140,150,160,170],"tickCount":30,"format":"d","labelFont":"Liberation Serif","labelOverlap":false,"labelFlush":false,"grid":true,"gridColor":"#56606a","gridWidth":1.2}}}},
{"transform":[{"filter":"datum.t != 'o'"}],"mark":{"type":"circle","size":115,"opacity":1},"encoding":{"x":{"field":"x","type":"quantitative","title":null},"y":{"field":"y","type":"quantitative","title":null},"color":{"field":"t","type":"nominal","scale":{"domain":["a","r"],"range":["#e38b2c","#c4122f"]},"legend":null}}},
{"data":{"values":[{}]},"mark":{"type":"rect","fill":"#d4e7f6","stroke":"#161616","strokeWidth":2.5},"encoding":{"x":{"datum":0.08,"type":"quantitative","title":null},"x2":{"datum":4.22},"y":{"datum":177.1,"type":"quantitative","title":null},"y2":{"datum":152.0}}},
{"data":{"values":[{}]},"mark":{"type":"text","text":"r","align":"left","baseline":"alphabetic","fontSize":25},"encoding":{"x":{"datum":0.55,"type":"quantitative","title":null},"y":{"datum":166.2,"type":"quantitative","title":null}}},
{"data":{"values":[{}]},"mark":{"type":"text","text":"(0-5)","align":"left","baseline":"alphabetic","fontSize":16,"dx":9,"dy":7},"encoding":{"x":{"datum":0.55,"type":"quantitative","title":null},"y":{"datum":166.2,"type":"quantitative","title":null}}},
{"data":{"values":[{}]},"mark":{"type":"text","text":"= 0.78","align":"left","baseline":"alphabetic","fontSize":25,"dx":47},"encoding":{"x":{"datum":0.55,"type":"quantitative","title":null},"y":{"datum":166.2,"type":"quantitative","title":null}}},
{"data":{"values":[{}]},"mark":{"type":"text","text":"r","align":"left","baseline":"alphabetic","fontSize":25},"encoding":{"x":{"datum":0.55,"type":"quantitative","title":null},"y":{"datum":157.0,"type":"quantitative","title":null}}},
{"data":{"values":[{}]},"mark":{"type":"text","text":"(>5)","align":"left","baseline":"alphabetic","fontSize":16,"dx":9,"dy":7},"encoding":{"x":{"datum":0.55,"type":"quantitative","title":null},"y":{"datum":157.0,"type":"quantitative","title":null}}},
{"data":{"values":[{}]},"mark":{"type":"text","text":"= 0.00","align":"left","baseline":"alphabetic","fontSize":25,"dx":47},"encoding":{"x":{"datum":0.55,"type":"quantitative","title":null},"y":{"datum":157.0,"type":"quantitative","title":null}}}
]},
{"width":486,"height":294,"data":{"name":"p6"},"title":{"text":"1vif","orient":"left","anchor":"middle","fontSize":28,"offset":15,"dx":72},"layer":[
{"transform":[{"filter":"datum.t == 'o'"}],"mark":{"type":"point","shape":"circle","filled":false,"size":75,"strokeWidth":2,"color":"#1c4d77","opacity":1},
"encoding":{"x":{"field":"x","type":"quantitative","title":null,"scale":{"domain":[0,100],"reverse":true,"nice":false,"zero":false},"axis":{"values":[0,10,20,30,40,50,60,70,80,90,100],"tickCount":30,"format":"d","labelFont":"Liberation Serif","labelOverlap":false,"labelFlush":false}},
"y":{"field":"y","type":"quantitative","title":null,"scale":{"domain":[70,170],"nice":false,"zero":false},"axis":{"orient":"right","values":[70,80,90,100,110,120,130,140,150,160,170],"tickCount":30,"format":"d","labelFont":"Liberation Serif","labelOverlap":false,"labelFlush":false,"grid":true,"gridColor":"#56606a","gridWidth":1.2}}}},
{"transform":[{"filter":"datum.t != 'o'"}],"mark":{"type":"circle","size":115,"opacity":1},"encoding":{"x":{"field":"x","type":"quantitative","title":null},"y":{"field":"y","type":"quantitative","title":null},"color":{"field":"t","type":"nominal","scale":{"domain":["a","r"],"range":["#e38b2c","#c4122f"]},"legend":null}}},
{"data":{"values":[{}]},"mark":{"type":"rect","fill":"#d4e7f6","stroke":"#161616","strokeWidth":2.5},"encoding":{"x":{"datum":99.0,"type":"quantitative","title":null},"x2":{"datum":73.2},"y":{"datum":173.5,"type":"quantitative","title":null},"y2":{"datum":157.9}}},
{"data":{"values":[{}]},"mark":{"type":"text","text":"r = -0.64","align":"left","baseline":"alphabetic","fontSize":25},"encoding":{"x":{"datum":95.1,"type":"quantitative","title":null},"y":{"datum":163.0,"type":"quantitative","title":null}}}
]}
],"spacing":102,"bounds":"flush","resolve":{"scale":{"x":"independent","y":"independent"}}},
{"hconcat":[
{"width":486,"height":294,"data":{"name":"p7"},"layer":[
{"transform":[{"filter":"datum.t == 'o'"}],"mark":{"type":"point","shape":"circle","filled":false,"size":75,"strokeWidth":2,"color":"#1c4d77","opacity":1},
"encoding":{"x":{"field":"x","type":"quantitative","title":null,"scale":{"domain":[0,13],"nice":false,"zero":false},"axis":{"values":[0,1,2,3,4,5,6,7,8,9,10,11,12,13],"tickCount":30,"format":"d","labelFont":"Liberation Serif","labelOverlap":false,"labelFlush":false}},
"y":{"field":"y","type":"quantitative","title":null,"scale":{"domain":[280,380],"nice":false,"zero":false},"axis":{"values":[280,290,300,310,320,330,340,350,360,370,380],"tickCount":30,"format":"d","labelFont":"Liberation Serif","labelOverlap":false,"labelFlush":false,"grid":true,"gridColor":"#808a93","gridWidth":1.2}}}},
{"transform":[{"filter":"datum.t != 'o'"}],"mark":{"type":"circle","size":115,"opacity":1},"encoding":{"x":{"field":"x","type":"quantitative","title":null},"y":{"field":"y","type":"quantitative","title":null},"color":{"field":"t","type":"nominal","scale":{"domain":["a","r"],"range":["#e38b2c","#c4122f"]},"legend":null}}},
{"data":{"values":[{}]},"mark":{"type":"rect","fill":"#d4e7f6","stroke":"#161616","strokeWidth":2.5},"encoding":{"x":{"datum":0.07,"type":"quantitative","title":null},"x2":{"datum":3.85},"y":{"datum":389.2,"type":"quantitative","title":null},"y2":{"datum":363.8}}},
{"data":{"values":[{}]},"mark":{"type":"text","text":"r","align":"left","baseline":"alphabetic","fontSize":25},"encoding":{"x":{"datum":0.53,"type":"quantitative","title":null},"y":{"datum":378.5,"type":"quantitative","title":null}}},
{"data":{"values":[{}]},"mark":{"type":"text","text":"(0-5)","align":"left","baseline":"alphabetic","fontSize":16,"dx":9,"dy":7},"encoding":{"x":{"datum":0.53,"type":"quantitative","title":null},"y":{"datum":378.5,"type":"quantitative","title":null}}},
{"data":{"values":[{}]},"mark":{"type":"text","text":"= n/a","align":"left","baseline":"alphabetic","fontSize":25,"dx":45},"encoding":{"x":{"datum":0.53,"type":"quantitative","title":null},"y":{"datum":378.5,"type":"quantitative","title":null}}},
{"data":{"values":[{}]},"mark":{"type":"text","text":"r","align":"left","baseline":"alphabetic","fontSize":25},"encoding":{"x":{"datum":0.53,"type":"quantitative","title":null},"y":{"datum":369.4,"type":"quantitative","title":null}}},
{"data":{"values":[{}]},"mark":{"type":"text","text":"(>5)","align":"left","baseline":"alphabetic","fontSize":16,"dx":9,"dy":7},"encoding":{"x":{"datum":0.53,"type":"quantitative","title":null},"y":{"datum":369.4,"type":"quantitative","title":null}}},
{"data":{"values":[{}]},"mark":{"type":"text","text":"< 0","align":"left","baseline":"alphabetic","fontSize":25,"dx":45},"encoding":{"x":{"datum":0.53,"type":"quantitative","title":null},"y":{"datum":369.4,"type":"quantitative","title":null}}}
]},
{"width":486,"height":294,"data":{"name":"p8"},"title":{"text":"2cdx","orient":"left","anchor":"middle","fontSize":28,"offset":15,"dx":72},"layer":[
{"transform":[{"filter":"datum.t == 'o'"}],"mark":{"type":"point","shape":"circle","filled":false,"size":75,"strokeWidth":2,"color":"#1c4d77","opacity":1},
"encoding":{"x":{"field":"x","type":"quantitative","title":null,"scale":{"domain":[0,100],"reverse":true,"nice":false,"zero":false},"axis":{"values":[0,10,20,30,40,50,60,70,80,90,100],"tickCount":30,"format":"d","labelFont":"Liberation Serif","labelOverlap":false,"labelFlush":false}},
"y":{"field":"y","type":"quantitative","title":null,"scale":{"domain":[280,380],"nice":false,"zero":false},"axis":{"orient":"right","values":[280,290,300,310,320,330,340,350,360,370,380],"tickCount":30,"format":"d","labelFont":"Liberation Serif","labelOverlap":false,"labelFlush":false,"grid":true,"gridColor":"#808a93","gridWidth":1.2}}}},
{"transform":[{"filter":"datum.t != 'o'"}],"mark":{"type":"circle","size":115,"opacity":1},"encoding":{"x":{"field":"x","type":"quantitative","title":null},"y":{"field":"y","type":"quantitative","title":null},"color":{"field":"t","type":"nominal","scale":{"domain":["a","r"],"range":["#e38b2c","#c4122f"]},"legend":null}}},
{"data":{"values":[{}]},"mark":{"type":"rect","fill":"#d4e7f6","stroke":"#161616","strokeWidth":2.5},"encoding":{"x":{"datum":98.9,"type":"quantitative","title":null},"x2":{"datum":73.2},"y":{"datum":383.2,"type":"quantitative","title":null},"y2":{"datum":367.6}}},
{"data":{"values":[{}]},"mark":{"type":"text","text":"r = -0.08","align":"left","baseline":"alphabetic","fontSize":25},"encoding":{"x":{"datum":95.4,"type":"quantitative","title":null},"y":{"datum":372.4,"type":"quantitative","title":null}}}
]}
],"spacing":102,"bounds":"flush","resolve":{"scale":{"x":"independent","y":"independent"}}}
],
"config":{
"view":{"fill":"#d0e4f4","stroke":"#7b8894","strokeWidth":1},
"style":{"guide-label":{"font":"Liberation Serif","fontSize":22}},
"axis":{"labelFont":"Liberation Serif","labelFontSize":22,"labelColor":"#111111","labelOverlap":false,"labelFlush":false,"domainColor":"#3c3c3c","domainWidth":1.5,"tickColor":"#3c3c3c","tickWidth":1.3,"grid":false,"titleFont":"Liberation Serif"},
"axisX":{"tickSize":7,"labelPadding":10},
"axisY":{"tickSize":6,"labelPadding":5},
"text":{"font":"Liberation Serif","color":"#111111"},
"title":{"font":"Liberation Serif","fontWeight":"normal","color":"#111111"}
}
}
